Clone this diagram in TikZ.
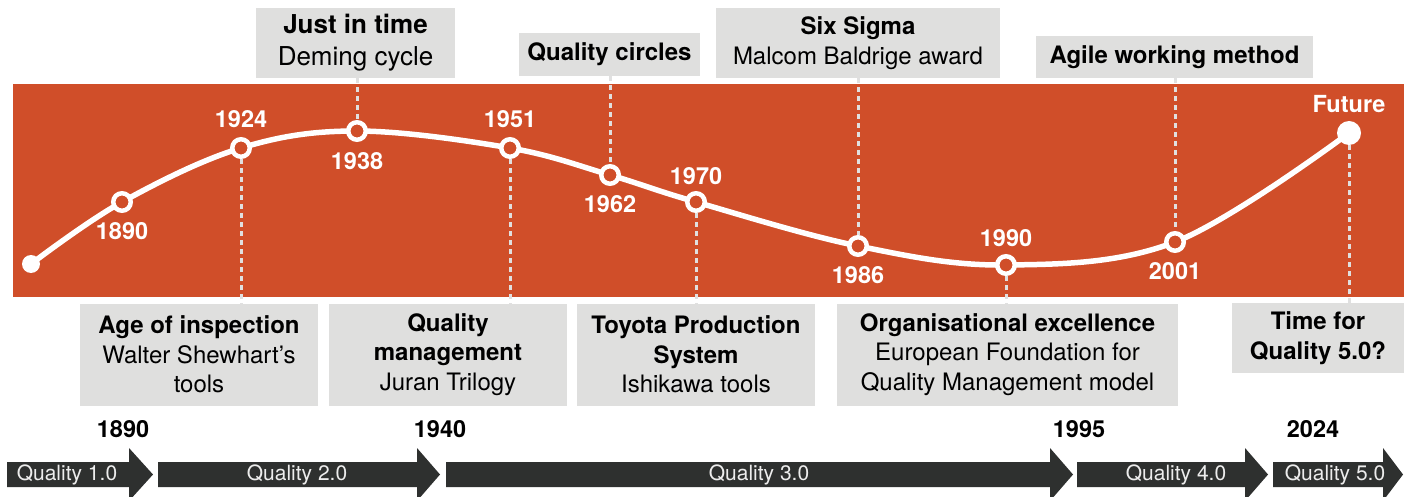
\documentclass[tikz,border=0pt]{standalone}
\usepackage{fontspec}
\setmainfont{TeX Gyre Heros}
\usetikzlibrary{shapes,arrows}

\definecolor{bandorange}{HTML}{D04E29}
\definecolor{boxgray}{HTML}{DFDFDE}
\definecolor{arrowdark}{HTML}{2E302F}
\definecolor{dashgray}{HTML}{E0E0E0}

\begin{document}
\begin{tikzpicture}[x=1pt, y=-1pt, node distance=29pt]
  \tikzstyle{box} = [rectangle, fill=boxgray, align=center, inner sep=0pt,
    font=\fontsize{24}{29.5}\selectfont]
  \tikzstyle{dot} = [circle, draw=white, line width=4.5pt, fill=bandorange,
    minimum size=17.5pt, inner sep=0pt]
  \tikzstyle{enddot} = [circle, fill=white, inner sep=0pt]
  \tikzstyle{year} = [text=white, inner sep=0pt,
    font=\fontsize{23.5}{28}\selectfont\bfseries]
  \tikzstyle{era} = [inner sep=0pt, font=\fontsize{23.5}{28}\selectfont\bfseries]
  \tikzstyle{phase} = [text=white!93!black, inner sep=0pt,
    font=\fontsize{21}{25}\selectfont]
  \tikzstyle{curve} = [draw=white, line width=5.5pt, line cap=round]
  \tikzstyle{dashline} = [draw=dashgray, line width=3pt,
    dash pattern=on 5pt off 4pt]

  \useasboundingbox (0,0) rectangle (1407,497);
  \fill [bandorange] (13,84) rectangle (1404,297);

  % Curve points
  \coordinate (c0) at (31,264);
  \coordinate (c1890) at (122,202);
  \coordinate (c1924) at (241,148);
  \coordinate (c1938) at (357,131);
  \coordinate (c1951) at (510,148);
  \coordinate (c1962) at (610,175);
  \coordinate (c1970) at (696,202);
  \coordinate (c1986) at (858,246);
  \coordinate (c1990) at (1006,265);
  \coordinate (c2001) at (1175,242);
  \coordinate (cfut) at (1349,133);

  \path [curve] plot [smooth, tension=0.6] coordinates {(c0) (c1890) (c1924)
    (c1938) (c1951) (c1962) (c1970) (c1986) (c1990) (c2001) (cfut)};

  % Place nodes
  \node [enddot, minimum size=18pt] (d0) at (c0) {};
  \node [dot] (d1890) at (c1890) {};
  \node [dot] (d1924) at (c1924) {};
  \node [dot] (d1938) at (c1938) {};
  \node [dot] (d1951) at (c1951) {};
  \node [dot] (d1962) at (c1962) {};
  \node [dot] (d1970) at (c1970) {};
  \node [dot] (d1986) at (c1986) {};
  \node [dot] (d1990) at (c1990) {};
  \node [dot] (d2001) at (c2001) {};
  \node [enddot, minimum size=24pt] (dfut) at (cfut) {};

  \node [year, below of=d1890] (y1890) {1890};
  \node [year, above of=d1924] (y1924) {1924};
  \node [year, below of=d1938, node distance=30pt] (y1938) {1938};
  \node [year, above of=d1951] (y1951) {1951};
  \node [year, below of=d1962] (y1962) {1962};
  \node [year, above of=d1970, node distance=26pt] (y1970) {1970};
  \node [year, below of=d1986] (y1986) {1986};
  \node [year, above of=d1990, node distance=27pt] (y1990) {1990};
  \node [year, below of=d2001] (y2001) {2001};
  \node [year, above of=dfut] (yfut) {Future};

  \node [box, minimum width=199pt, minimum height=70pt,
    font=\fontsize{26}{30}\selectfont] (jit) at (355.5,43)
    {\textbf{Just in time}\\[2pt]Deming cycle};
  \node [box, minimum width=181pt, minimum height=43pt] (qc) at (609.5,54.5)
    {\textbf{Quality circles}};
  \node [box, minimum width=284pt, minimum height=70pt] (six) at (858,43)
    {\textbf{Six Sigma}\\Malcom Baldrige award};
  \node [box, minimum width=277pt, minimum height=42pt] (agile) at (1174.5,57)
    {\textbf{Agile working method}};

  \node [box, minimum width=238pt, minimum height=102pt] (age) at (199,354.5)
    {\textbf{Age of inspection}\\Walter Shewhart’s\\tools};
  \node [box, minimum width=238pt, minimum height=102pt] (qm) at (448,354.5)
    {\textbf{Quality}\\\textbf{management}\\Juran Trilogy};
  \node [box, minimum width=238pt, minimum height=102pt] (tps) at (696,354.5)
    {\textbf{Toyota Production}\\\textbf{System}\\Ishikawa tools};
  \node [box, minimum width=341pt, minimum height=102pt] (org) at (1007.5,354.5)
    {\textbf{Organisational excellence}\\European Foundation for\\Quality Management model};
  \node [box, minimum width=172pt, minimum height=70pt] (tq5) at (1318,338)
    {\textbf{Time for}\\\textbf{Quality 5.0?}};

  \node [era] (e1890) at (123,429) {1890};
  \node [era] (e1940) at (440,429) {1940};
  \node [era] (e1995) at (1079,429) {1995};
  \node [era] (e2024) at (1313,429) {2024};

  % Draw edges
  \path [dashline] (d1924) -- (d1924 |- age.north);
  \path [dashline] (d1938 |- jit.south) -- (d1938);
  \path [dashline] (d1951) -- (d1951 |- qm.north);
  \path [dashline] (d1962 |- qc.south) -- (d1962);
  \path [dashline] (d1970) -- (d1970 |- tps.north);
  \path [dashline] (d1986 |- six.south) -- (d1986);
  \path [dashline] (d1990) -- (d1990 |- org.north);
  \path [dashline] (d2001 |- agile.south) -- (d2001);
  \path [dashline] (dfut) -- (dfut |- tq5.north);

  % Quality phases
  \foreach \s/\h/\t/\m/\n in {7/129/153/67/1, 158/417/440/297/2,
      446/1050/1073/759/3, 1077/1245/1268/1176/4, 1273/1383/1403/1335/5}
  {
    \fill [arrowdark] (\s,462) -- (\h,462) -- (\h,448) -- (\t,474.5)
      -- (\h,501) -- (\h,487) -- (\s,487) -- cycle;
    \node [phase] (q\n) at (\m,474.5) {Quality \n.0};
  }
\end{tikzpicture}
\end{document}
